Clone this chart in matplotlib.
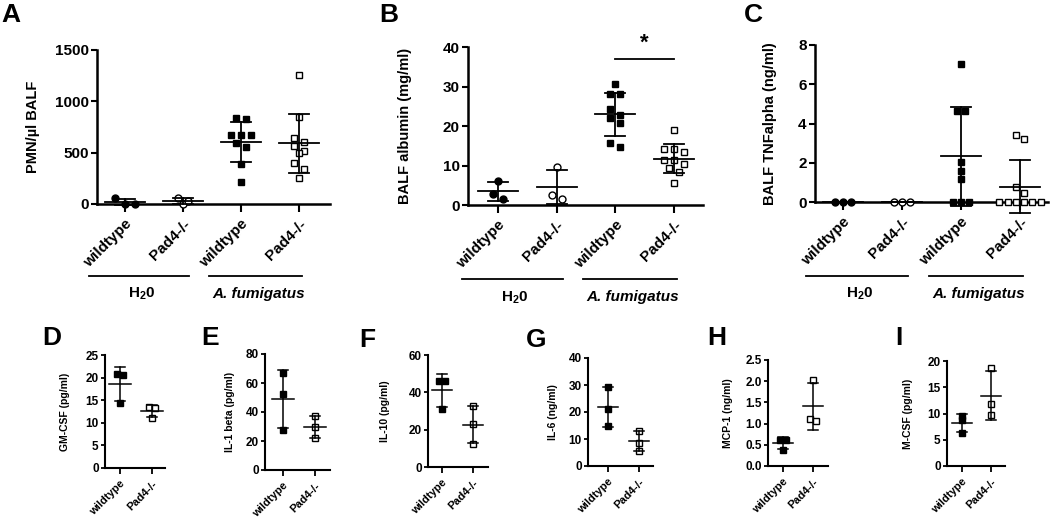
import numpy as np
import matplotlib
matplotlib.use('Agg')
import matplotlib.pyplot as plt
import matplotlib.transforms as mtransforms

plt.rcParams['font.family'] = ['Liberation Sans', 'DejaVu Sans']
plt.rcParams['font.weight'] = 'bold'
plt.rcParams['mathtext.fontset'] = 'custom'
plt.rcParams['mathtext.rm'] = 'Liberation Sans'
plt.rcParams['mathtext.bf'] = 'Liberation Sans:bold'

# ---- data ----
top_labels = ['wildtype', 'Pad4-/-', 'wildtype', 'Pad4-/-']
group_labels = [r'$\mathbf{H_{2}0}$', 'A. fumigatus']

pmn_wt_h2o = [55, 0, 0]
pmn_ko_h2o = [62, 0, 29]
pmn_wt_af = [835, 828, 672, 672, 672, 591, 558, 386, 218]
pmn_ko_af = [1256, 851, 646, 607, 565, 519, 500, 396, 338, 250]

alb_wt_h2o = [6.1, 2.9, 1.4]
alb_ko_h2o = [9.5, 2.5, 1.5]
alb_wt_af = [30.6, 28.0, 28.0, 24.2, 22.7, 22.1, 20.8, 15.7, 14.7]
alb_ko_af = [19.0, 14.3, 14.3, 13.5, 11.4, 11.4, 10.5, 9.3, 8.4, 5.6]

tnf_wt_h2o = [0, 0, 0]
tnf_ko_h2o = [0, 0, 0]
tnf_wt_af = [7.02, 4.64, 4.64, 2.03, 1.56, 1.17, 0, 0, 0]
tnf_ko_af = [3.41, 3.21, 0.75, 0.47, 0, 0, 0, 0, 0, 0]

low_labels = ['wildtype', 'Pad4-/-']
gmcsf_wt = [20.8, 20.6, 14.3]
gmcsf_ko = [13.6, 13.2, 11.0]
il1b_wt = [66.9, 52.3, 27.7]
il1b_ko = [37.3, 30.0, 21.9]
il10_wt = [46.0, 46.0, 31.0]
il10_ko = [32.6, 22.9, 12.5]
il6_wt = [29.4, 21.1, 14.9]
il6_ko = [13.1, 8.6, 5.7]
mcp1_wt = [0.62, 0.61, 0.37]
mcp1_ko = [2.04, 1.12, 1.06]
mcsf_wt = [9.5, 8.7, 6.3]
mcsf_ko = [18.6, 11.8, 9.7]

W, H = 1050, 517
fig = plt.figure(figsize=(W / 100, H / 100), dpi=100)


def make_ax(l, r, t, b, c0, c1, n):
    ax = fig.add_axes([l / W, 1 - b / H, (r - l) / W, (b - t) / H])
    s = (c1 - c0) / (n - 1)
    ax.set_xlim((l - c0) / s, (r - c0) / s)
    for side in ['top', 'right']:
        ax.spines[side].set_visible(False)
    return ax


def spread(vals, tol, step):
    # simple column scatter: points with near-equal values sit side by side
    vals = np.asarray(vals, dtype=float)
    order = np.argsort(-vals, kind='stable')
    offs = np.zeros(len(vals))
    clusters = []
    for k in order:
        if clusters and abs(vals[clusters[-1][0]] - vals[k]) <= tol:
            clusters[-1].append(k)
        else:
            clusters.append([k])
    for c in clusters:
        n = len(c)
        for j, k in enumerate(c):
            offs[k] = (j - (n - 1) / 2) * step
    return offs


def draw(ax, groups, styles, ymax, ms, step, mw, cw, lw):
    for i, (vals, (m, filled)) in enumerate(zip(groups, styles)):
        vals = np.asarray(vals, dtype=float)
        offs = spread(vals, 0.04 * ymax, step)
        ax.plot(i + offs, vals, ls='none', marker=m, ms=ms,
                mfc='black' if filled else 'white', mec='black',
                mew=1.0, clip_on=False, zorder=3)
        mean, sd = vals.mean(), vals.std(ddof=1)
        ax.plot([i - mw, i + mw], [mean, mean], color='black', lw=lw,
                clip_on=False, zorder=4)
        ax.plot([i, i], [mean - sd, mean + sd], color='black', lw=lw,
                clip_on=False, zorder=4)
        for y in (mean - sd, mean + sd):
            ax.plot([i - cw, i + cw], [y, y], color='black', lw=lw,
                    clip_on=False, zorder=4)


def style_top(ax, ylabel, ymax, yticks, label_dx):
    ax.set_ylim(0, ymax)
    ax.set_yticks(yticks)
    ax.set_xticks(range(4))
    ax.set_xticklabels(top_labels, rotation=45, ha='right',
                       rotation_mode='anchor', fontsize=11, fontweight='bold')
    ax.tick_params(axis='y', labelsize=11, width=1.5, length=4, pad=2)
    ax.tick_params(axis='x', width=1.5, length=6)
    for lab in ax.get_yticklabels():
        lab.set_fontweight('bold')
    for sp in ['left', 'bottom']:
        ax.spines[sp].set_linewidth(1.8)
    ax.set_ylabel(ylabel, fontsize=10.5, fontweight='bold')
    ax.yaxis.set_label_coords(label_dx, 0.5)
    tr = mtransforms.blended_transform_factory(ax.transData, ax.transAxes)
    for (x0, x1), lab in zip([(-0.62, 1.1), (1.45, 3.05)], group_labels):
        ax.plot([x0, x1], [-0.47, -0.47], color='black', lw=1.3,
                transform=tr, clip_on=False)
        ax.text((x0 + x1) / 2 + 0.05, -0.585, lab, transform=tr, ha='center',
                va='center', fontsize=11, fontweight='bold',
                fontstyle='normal' if lab.startswith('$') else 'italic')


def style_low(ax, ylabel, ymax, yticks, label_dx, fmt=None):
    ax.set_ylim(0, ymax)
    ax.set_yticks(yticks)
    if fmt:
        ax.set_yticklabels([fmt.format(v) for v in yticks])
    ax.set_xticks(range(2))
    ax.set_xticklabels(low_labels, rotation=45, ha='right',
                       rotation_mode='anchor', fontsize=8, fontweight='bold')
    ax.tick_params(axis='y', labelsize=8.5, width=1.3, length=3, pad=1.5)
    ax.tick_params(axis='x', width=1.3, length=4)
    for lab in ax.get_yticklabels():
        lab.set_fontweight('bold')
    for sp in ['left', 'bottom']:
        ax.spines[sp].set_linewidth(1.5)
    ax.set_ylabel(ylabel, fontsize=7.5, fontweight='bold')
    ax.yaxis.set_label_coords(label_dx, 0.5)


top_styles = [('o', True), ('o', False), ('s', True), ('s', False)]
low_styles = [('s', True), ('s', False)]

# ---- top row ----
axA = make_ax(97, 330, 50, 204, 125, 299, 4)
draw(axA, [pmn_wt_h2o, pmn_ko_h2o, pmn_wt_af, pmn_ko_af], top_styles, 1500,
     5.0, 0.17, 0.34, 0.17, 1.3)
style_top(axA, 'PMN/µl BALF', 1500, [0, 500, 1000, 1500], -57 / 233)

axB = make_ax(468, 703, 47, 205, 498, 674, 4)
draw(axB, [alb_wt_h2o, alb_ko_h2o, alb_wt_af, alb_ko_af], top_styles, 40,
     5.0, 0.17, 0.34, 0.17, 1.3)
style_top(axB, 'BALF albumin (mg/ml)', 40, [0, 10, 20, 30, 40], -56 / 235)
axB.plot([2, 3], [37, 37], color='black', lw=1.3, clip_on=False)
axB.text(2.5, 38.2, '*', ha='center', va='bottom', fontsize=16,
         fontweight='bold')

axC = make_ax(815, 1048, 45, 202, 843, 1020, 4)
draw(axC, [tnf_wt_h2o, tnf_ko_h2o, tnf_wt_af, tnf_ko_af], top_styles, 8,
     5.0, 0.14, 0.34, 0.17, 1.3)
style_top(axC, 'BALF TNFalpha (ng/ml)', 8, [0, 2, 4, 6, 8], -38 / 233)

# ---- bottom row ----
low = [
    ((105, 165, 355, 468, 120, 152), gmcsf_wt, gmcsf_ko, 'GM-CSF (pg/ml)', 25,
     [0, 5, 10, 15, 20, 25], None),
    ((265, 330, 354, 470, 283, 315), il1b_wt, il1b_ko, 'IL-1 beta (pg/ml)', 80,
     [0, 20, 40, 60, 80], None),
    ((428, 488, 355, 467, 442, 473), il10_wt, il10_ko, 'IL-10 (pg/ml)', 60,
     [0, 20, 40, 60], None),
    ((588, 653, 358, 466, 608, 639), il6_wt, il6_ko, 'IL-6 (ng/ml)', 40,
     [0, 10, 20, 30, 40], None),
    ((768, 828, 360, 466, 783, 813), mcp1_wt, mcp1_ko, 'MCP-1 (ng/ml)', 2.5,
     [0, 0.5, 1.0, 1.5, 2.0, 2.5], '{:.1f}'),
    ((947, 1005, 361, 466, 962, 991), mcsf_wt, mcsf_ko, 'M-CSF (pg/ml)', 20,
     [0, 5, 10, 15, 20], None),
]
low_label_dx = [35, 30, 38, 30, 35, 34]
for (box, wt, ko, ylab, ymax, ticks, fmt), dx in zip(low, low_label_dx):
    l, r, t, b, c0, c1 = box
    ax = make_ax(l, r, t, b, c0, c1, 2)
    draw(ax, [wt, ko], low_styles, ymax, 4.0, 0.2, 0.33, 0.17, 1.1)
    style_low(ax, ylab, ymax, ticks, -dx / (r - l), fmt)

# ---- panel letters ----
letters = [('A', 1, 3), ('B', 379, 3), ('C', 744, 3), ('D', 42, 326),
           ('E', 201, 326), ('F', 359, 328), ('G', 526, 328), ('H', 707, 326),
           ('I', 895, 326)]
for s, x, y in letters:
    fig.text(x / W, 1 - y / H, s, ha='left', va='top', fontsize=19,
             fontweight='bold')

fig.savefig('out.png', dpi=100)
